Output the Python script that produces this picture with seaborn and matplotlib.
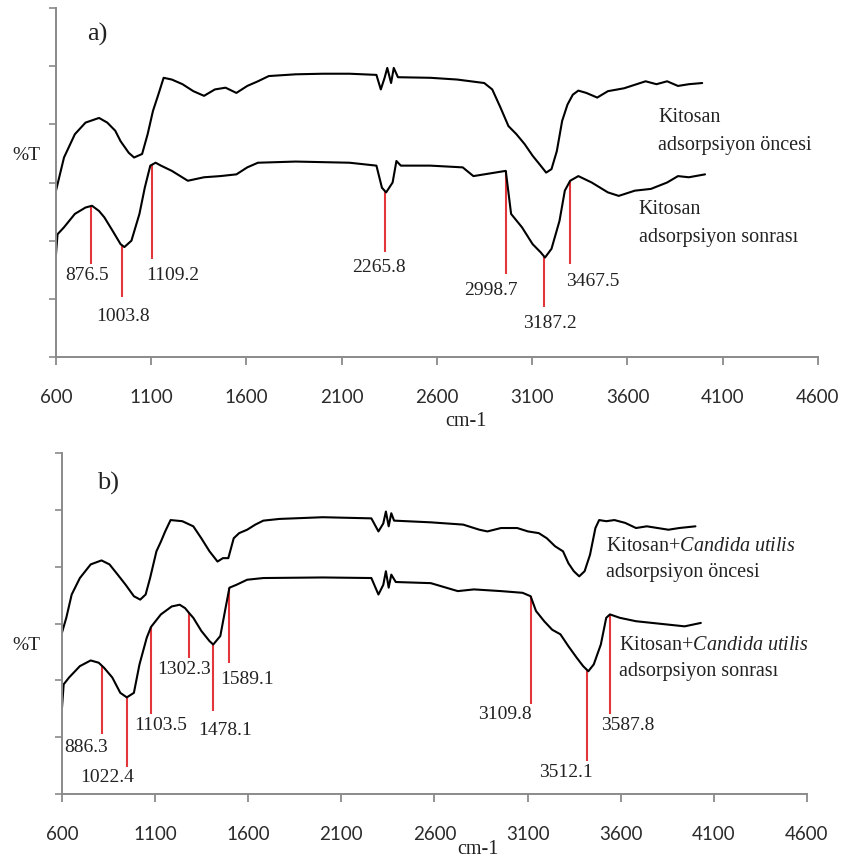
import numpy as np
import pandas as pd
import matplotlib
matplotlib.use("Agg")
import matplotlib.pyplot as plt
import seaborn as sns

sns.set_theme(style="white")
plt.rcParams["font.family"] = ["Liberation Serif", "DejaVu Serif"]
plt.rcParams["mathtext.fontset"] = "custom"
plt.rcParams["mathtext.rm"] = "Liberation Serif"
plt.rcParams["mathtext.it"] = "Liberation Serif:italic"

# ---------------- data: panel a ----------------
a_before_wn = [600, 642, 699, 755, 826, 869, 911, 939, 982, 1010, 1052, 1081, 1109, 1137, 1165,
               1208, 1264, 1321, 1377, 1434, 1490, 1547, 1604, 1660, 1717, 1858, 2000, 2141,
               2282, 2305, 2325, 2339, 2359, 2373, 2395, 2565, 2706, 2848, 2890, 2933, 2975,
               3017, 3060, 3102, 3144, 3173, 3201, 3229, 3257, 3285, 3313, 3342, 3384, 3441,
               3497, 3582, 3695, 3752, 3808, 3865, 3922, 3992]
a_before_T = [2.86, 3.43, 3.83, 4.03, 4.11, 4.03, 3.89, 3.71, 3.51, 3.43, 3.49, 3.83, 4.23, 4.51,
              4.80, 4.77, 4.69, 4.57, 4.49, 4.60, 4.63, 4.54, 4.66, 4.74, 4.83, 4.86, 4.87, 4.87,
              4.85, 4.60, 4.80, 4.97, 4.71, 4.97, 4.81, 4.80, 4.77, 4.71, 4.60, 4.29, 3.97,
              3.83, 3.66, 3.46, 3.29, 3.17, 3.23, 3.54, 4.06, 4.34, 4.51, 4.58, 4.54, 4.46,
              4.57, 4.62, 4.74, 4.69, 4.74, 4.66, 4.69, 4.71]

a_after_wn = [600, 608, 642, 699, 755, 789, 826, 854, 897, 939, 959, 996, 1038, 1066, 1095, 1123,
              1151, 1208, 1292, 1377, 1462, 1547, 1604, 1660, 1858, 2141, 2282, 2311, 2333,
              2367, 2387, 2410, 2565, 2735, 2791, 2848, 2961, 2989, 3046, 3102, 3144, 3167,
              3201, 3243, 3271, 3299, 3342, 3412, 3497, 3554, 3639, 3723, 3808, 3865, 3922, 4007]
a_after_T = [1.77, 2.11, 2.23, 2.46, 2.57, 2.60, 2.51, 2.40, 2.17, 1.94, 1.89, 2.00, 2.46, 2.91,
             3.29, 3.34, 3.29, 3.20, 3.03, 3.09, 3.11, 3.14, 3.26, 3.34, 3.36, 3.34, 3.29, 2.91,
             2.83, 3.00, 3.37, 3.29, 3.29, 3.26, 3.11, 3.14, 3.20, 2.46, 2.23, 1.94, 1.80, 1.71,
             1.86, 2.34, 2.86, 3.03, 3.11, 3.00, 2.83, 2.77, 2.86, 2.89, 3.00, 3.11, 3.09, 3.14]

a_peak_wn = [784, 948, 1103, 2327, 2961, 3164, 3300]
a_peak_labels = ["876.5", "1003.8", "1109.2", "2265.8", "2998.7", "3187.2", "3467.5"]

# ---------------- data: panel b ----------------
b_before_wn = [600, 623, 652, 696, 754, 812, 855, 899, 942, 986, 1020, 1049, 1073, 1107, 1131,
               1154, 1183, 1246, 1305, 1348, 1392, 1435, 1464, 1493, 1522, 1551, 1594, 1638,
               1681, 1768, 2000, 2261, 2299, 2325, 2339, 2354, 2368, 2383, 2580, 2754, 2841,
               2884, 2957, 3044, 3102, 3160, 3203, 3247, 3290, 3319, 3348, 3377, 3406, 3435,
               3464, 3484, 3522, 3566, 3624, 3682, 3740, 3798, 3856, 3914, 4001]
b_before_T = [2.84, 3.10, 3.51, 3.80, 4.04, 4.11, 4.04, 3.86, 3.68, 3.48, 3.42, 3.51, 3.80, 4.27,
              4.44, 4.62, 4.82, 4.80, 4.71, 4.50, 4.27, 4.09, 4.15, 4.15, 4.50, 4.59, 4.65, 4.74,
              4.81, 4.84, 4.87, 4.85, 4.62, 4.76, 4.97, 4.71, 4.94, 4.81, 4.78, 4.74, 4.65,
              4.62, 4.68, 4.68, 4.62, 4.59, 4.50, 4.36, 4.27, 4.06, 3.92, 3.83, 3.92, 4.21,
              4.68, 4.82, 4.80, 4.82, 4.77, 4.68, 4.71, 4.68, 4.65, 4.68, 4.71]

b_after_wn = [600, 609, 638, 696, 754, 797, 826, 870, 913, 948, 986, 1016, 1055, 1078, 1131, 1189,
              1232, 1261, 1281, 1305, 1348, 1392, 1412, 1450, 1478, 1499, 1536, 1594, 1681,
              2000, 2261, 2299, 2325, 2339, 2354, 2368, 2392, 2580, 2725, 2812, 2957, 3073,
              3116, 3145, 3189, 3232, 3276, 3319, 3363, 3398, 3426, 3455, 3493, 3522, 3542,
              3595, 3682, 3769, 3856, 3943, 4030]
b_after_T = [1.52, 1.93, 2.05, 2.25, 2.35, 2.31, 2.22, 2.05, 1.78, 1.70, 1.78, 2.28, 2.75, 2.94,
             3.16, 3.30, 3.33, 3.27, 3.19, 3.10, 2.87, 2.69, 2.63, 2.78, 3.27, 3.63, 3.68, 3.77,
             3.80, 3.81, 3.80, 3.51, 3.68, 3.92, 3.63, 3.86, 3.73, 3.71, 3.57, 3.60, 3.57, 3.54,
             3.48, 3.22, 3.04, 2.89, 2.81, 2.60, 2.40, 2.25, 2.16, 2.28, 2.63, 3.10, 3.16,
             3.10, 3.04, 3.01, 2.98, 2.95, 3.01]

b_peak_wn = [817, 948, 1078, 1284, 1412, 1499, 3116, 3421, 3542]
b_peak_labels = ["886.3", "1022.4", "1103.5", "1302.3", "1478.1", "1589.1",
                 "3109.8", "3512.1", "3587.8"]

x_ticks = [600, 1100, 1600, 2100, 2600, 3100, 3600, 4100, 4600]

# ---------------- layout (positions of annotation elements) ----------------
a_peak_bottom = [1.60, 1.03, 1.69, 1.80, 1.43, 0.86, 1.60]
a_label_xy = [(764, 1.40), (953, 0.69), (1213, 1.40), (2296, 1.54), (2881, 1.14),
              (3192, 0.57), (3418, 1.29)]
b_peak_bottom = [1.05, 0.47, 1.40, 2.40, 1.46, 2.31, 1.58, 0.58, 1.40]
b_label_xy = [(730, 0.82), (841, 0.29), (1130, 1.20), (1255, 2.19), (1478, 1.11),
              (1594, 2.02), (2977, 1.40), (3305, 0.38), (3638, 1.20)]

W, H = 845, 860
fig = plt.figure(figsize=(W / 100, H / 100), dpi=100)
ax_a = fig.add_axes([56 / W, 1 - 357 / H, (818 - 56) / W, (357 - 8) / H])
ax_b = fig.add_axes([62 / W, 1 - 794 / H, (807 - 62) / W, (794 - 453) / H])

red = "#e2363a"
spine_col = "#8a8a8a"
txt_col = "#222222"
tick_font = dict(family=["Lato", "DejaVu Sans"], size=13.5, color="#2b2b2b")


def draw_panel(ax, before_wn, before_T, after_wn, after_T, peak_wn, peak_labels,
               peak_bottom, label_xy):
    df_b = pd.DataFrame({"wn": before_wn, "T": before_T})
    df_a = pd.DataFrame({"wn": after_wn, "T": after_T})
    sns.lineplot(data=df_b, x="wn", y="T", ax=ax, color="black", lw=1.5,
                 estimator=None, sort=False)
    sns.lineplot(data=df_a, x="wn", y="T", ax=ax, color="black", lw=1.5,
                 estimator=None, sort=False)
    tops = np.interp(peak_wn, after_wn, after_T)
    ax.vlines(peak_wn, peak_bottom, tops, color=red, lw=1.5, zorder=1)
    for (lx, ly), lab in zip(label_xy, peak_labels):
        ax.text(lx, ly, lab, ha="center", va="center", fontsize=14, color=txt_col)
    ax.set_xlim(600, 4600)
    ax.set_ylim(0, 6)
    ax.set_xticks(x_ticks)
    ax.set_xticklabels([str(t) for t in x_ticks], fontdict=tick_font)
    ax.set_yticks(range(7))
    ax.set_yticklabels([])
    ax.set_xlabel("")
    ax.set_ylabel("")
    for s in ["top", "right"]:
        ax.spines[s].set_visible(False)
    for s in ["left", "bottom"]:
        ax.spines[s].set_color(spine_col)
        ax.spines[s].set_linewidth(1.4)
    ax.tick_params(axis="x", direction="out", length=6, width=1.3, color=spine_col,
                   pad=17, bottom=True)
    ax.tick_params(axis="y", direction="out", length=5, width=1.2, color=spine_col,
                   left=True)


draw_panel(ax_a, a_before_wn, a_before_T, a_after_wn, a_after_T, a_peak_wn,
           a_peak_labels, a_peak_bottom, a_label_xy)
draw_panel(ax_b, b_before_wn, b_before_T, b_after_wn, b_after_T, b_peak_wn,
           b_peak_labels, b_peak_bottom, b_label_xy)

lab_fs = 14.5
# panel a texts
ax_a.text(815, 5.54, "a)", fontsize=19, ha="center", va="center", color=txt_col)
ax_a.text(3760, 4.11, "Kitosan", fontsize=lab_fs, ha="left", va="center", color=txt_col)
ax_a.text(3760, 3.64, "adsorpsiyon öncesi", fontsize=lab_fs, ha="left", va="center",
          color=txt_col)
ax_a.text(3659, 2.53, "Kitosan", fontsize=lab_fs, ha="left", va="center", color=txt_col)
ax_a.text(3659, 2.05, "adsorpsiyon sonrası", fontsize=lab_fs, ha="left", va="center",
          color=txt_col)

# panel b texts
ax_b.text(847, 5.47, "b)", fontsize=19, ha="center", va="center", color=txt_col)
ax_b.text(3522, 4.36, r"Kitosan+$\mathit{Candida\ utilis}$", fontsize=lab_fs, ha="left",
          va="center", color=txt_col)
ax_b.text(3522, 3.90, "adsorpsiyon öncesi", fontsize=lab_fs, ha="left", va="center",
          color=txt_col)
ax_b.text(3589, 2.62, r"Kitosan+$\mathit{Candida\ utilis}$", fontsize=lab_fs, ha="left",
          va="center", color=txt_col)
ax_b.text(3589, 2.16, "adsorpsiyon sonrası", fontsize=lab_fs, ha="left", va="center",
          color=txt_col)

# axis titles
fig.text(12 / W, 1 - 155 / H, "%T", fontsize=14, ha="left", va="center", color=txt_col)
fig.text(12 / W, 1 - 646 / H, "%T", fontsize=14, ha="left", va="center", color=txt_col)
fig.text(466 / W, 1 - 421 / H, "cm-1", fontsize=14.5, ha="center", va="center", color=txt_col)
fig.text(478 / W, 1 - 849 / H, "cm-1", fontsize=14.5, ha="center", va="center", color=txt_col)

fig.savefig("out.png", dpi=100, facecolor="white")
